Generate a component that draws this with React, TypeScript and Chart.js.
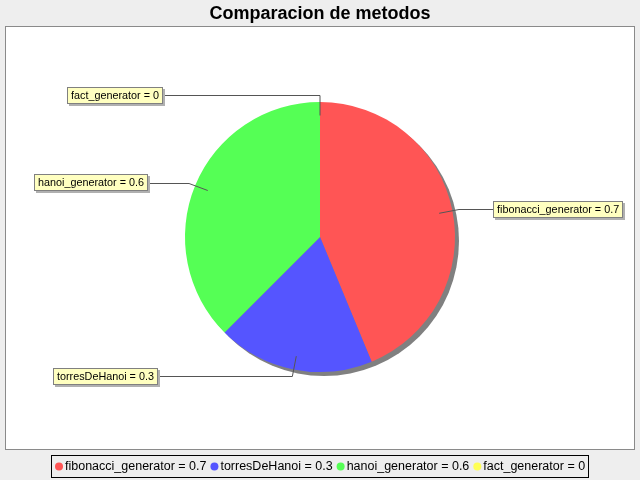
import React, { useEffect, useRef } from "react";
import { Chart, registerables } from "chart.js";

Chart.register(...registerables);

const TITLE = "Comparacion de metodos";
const categories = ["fibonacci_generator", "torresDeHanoi", "hanoi_generator", "fact_generator"];
const values = [0.7, 0.3, 0.6, 0];
const colors = ["#FF5555", "#5555FF", "#55FF55", "#FFFF55"];

// layout: label box edge x (left edge for right-side labels, right edge for left-side ones)
const labelEdgeX = [493, 158, 148, 163];

const FONT = "'Liberation Sans', Arial, sans-serif";

const piePlugin = {
  id: "jfreePie",
  beforeDraw(chart: any) {
    const ctx = chart.ctx;
    ctx.save();
    ctx.fillStyle = "#EEEEEE";
    ctx.fillRect(0, 0, chart.width, chart.height);
    ctx.fillStyle = "#FFFFFF";
    ctx.fillRect(5, 26, 629, 423);
    ctx.strokeStyle = "#8A8A8A";
    ctx.lineWidth = 1;
    ctx.strokeRect(5.5, 26.5, 629, 423);
    ctx.fillStyle = "#000000";
    ctx.font = `bold 18px ${FONT}`;
    ctx.textAlign = "center";
    ctx.textBaseline = "middle";
    ctx.fillText(TITLE, chart.width / 2, 14);
    ctx.restore();
  },
  beforeDatasetsDraw(chart: any) {
    const meta = chart.getDatasetMeta(0);
    const arc = meta.data[0];
    if (!arc) return;
    const { x, y, outerRadius } = arc.getProps(["x", "y", "outerRadius"], true);
    const ctx = chart.ctx;
    ctx.save();
    ctx.fillStyle = "#808080";
    ctx.beginPath();
    ctx.arc(x + 4, y + 4, outerRadius, 0, Math.PI * 2);
    ctx.fill();
    ctx.restore();
  },
  afterDatasetsDraw(chart: any) {
    const ctx = chart.ctx;
    const meta = chart.getDatasetMeta(0);
    ctx.save();
    ctx.font = `10.8px ${FONT}`;
    meta.data.forEach((el: any, i: number) => {
      const { x, y, outerRadius, startAngle, endAngle } = el.getProps(
        ["x", "y", "outerRadius", "startAngle", "endAngle"],
        true
      );
      const mid = (startAngle + endAngle) / 2;
      const ax = x + Math.cos(mid) * outerRadius * 0.9;
      const ay = y + Math.sin(mid) * outerRadius * 0.9;
      const ex = x + Math.cos(mid) * outerRadius * 1.05;
      const ey = y + Math.sin(mid) * outerRadius * 1.05;
      const right = Math.cos(mid) > 0.0001;
      const text = `${categories[i]} = ${values[i]}`;
      const tw = ctx.measureText(text).width;
      const bw = Math.round(tw + 8);
      const bh = 17;
      const edge = labelEdgeX[i];
      const bx = right ? edge : edge - bw;
      const by = Math.round(ey - bh / 2);
      ctx.strokeStyle = "#555555";
      ctx.lineWidth = 1;
      ctx.beginPath();
      ctx.moveTo(ax, ay);
      ctx.lineTo(ex, Math.round(ey) + 0.5);
      ctx.lineTo(right ? bx : bx + bw, Math.round(ey) + 0.5);
      ctx.stroke();
      ctx.fillStyle = "#B0B0B0";
      ctx.fillRect(bx + 2, by + 2, bw, bh);
      ctx.fillStyle = "#FFFFC0";
      ctx.fillRect(bx, by, bw, bh);
      ctx.strokeStyle = "#808080";
      ctx.strokeRect(bx + 0.5, by + 0.5, bw - 1, bh - 1);
      ctx.fillStyle = "#000000";
      ctx.textAlign = "left";
      ctx.textBaseline = "middle";
      ctx.fillText(text, bx + 4, by + bh / 2 + 0.5);
    });
    ctx.restore();
  },
  afterDraw(chart: any) {
    const ctx = chart.ctx;
    ctx.save();
    ctx.font = `12.5px ${FONT}`;
    const texts = categories.map((c, i) => `${c} = ${values[i]}`);
    const widths = texts.map((t) => ctx.measureText(t).width);
    const padL = 8;
    const toText = 6;
    const gap = 8;
    const padR = 4;
    const total = Math.round(
      padL + widths.reduce((s, w) => s + toText + w, 0) + gap * (texts.length - 1) + padR
    );
    const left = Math.round(chart.width / 2 - total / 2);
    const top = 455;
    const h = 23;
    ctx.fillStyle = "#EEEEEE";
    ctx.fillRect(left, top, total, h);
    ctx.strokeStyle = "#000000";
    ctx.lineWidth = 1;
    ctx.strokeRect(left + 0.5, top + 0.5, total - 1, h - 1);
    let cx = left + padL;
    const cy = top + h / 2;
    texts.forEach((t, i) => {
      ctx.fillStyle = colors[i];
      ctx.beginPath();
      ctx.arc(cx, cy, 4, 0, Math.PI * 2);
      ctx.fill();
      ctx.fillStyle = "#000000";
      ctx.textAlign = "left";
      ctx.textBaseline = "middle";
      ctx.fillText(t, cx + toText, cy + 0.5);
      cx = cx + toText + widths[i] + gap;
    });
    ctx.restore();
  },
};

export default function App() {
  const ref = useRef<HTMLCanvasElement | null>(null);
  useEffect(() => {
    if (!ref.current) return;
    const chart = new Chart(ref.current, {
      type: "pie",
      data: {
        labels: categories,
        datasets: [
          {
            data: values,
            backgroundColor: colors,
            borderWidth: 0,
          },
        ],
      },
      options: {
        responsive: false,
        animation: false,
        layout: { padding: { left: 185, right: 185, top: 102, bottom: 108 } },
        plugins: {
          legend: { display: false },
          title: { display: false },
          tooltip: { enabled: false },
        },
      },
      plugins: [piePlugin],
    });
    return () => chart.destroy();
  }, []);
  return (
    <div style={{ position: "fixed", left: 0, top: 0, width: 640, height: 480, background: "#EEEEEE" }}>
      <canvas ref={ref} width={640} height={480} style={{ display: "block", width: 640, height: 480 }} />
    </div>
  );
}
